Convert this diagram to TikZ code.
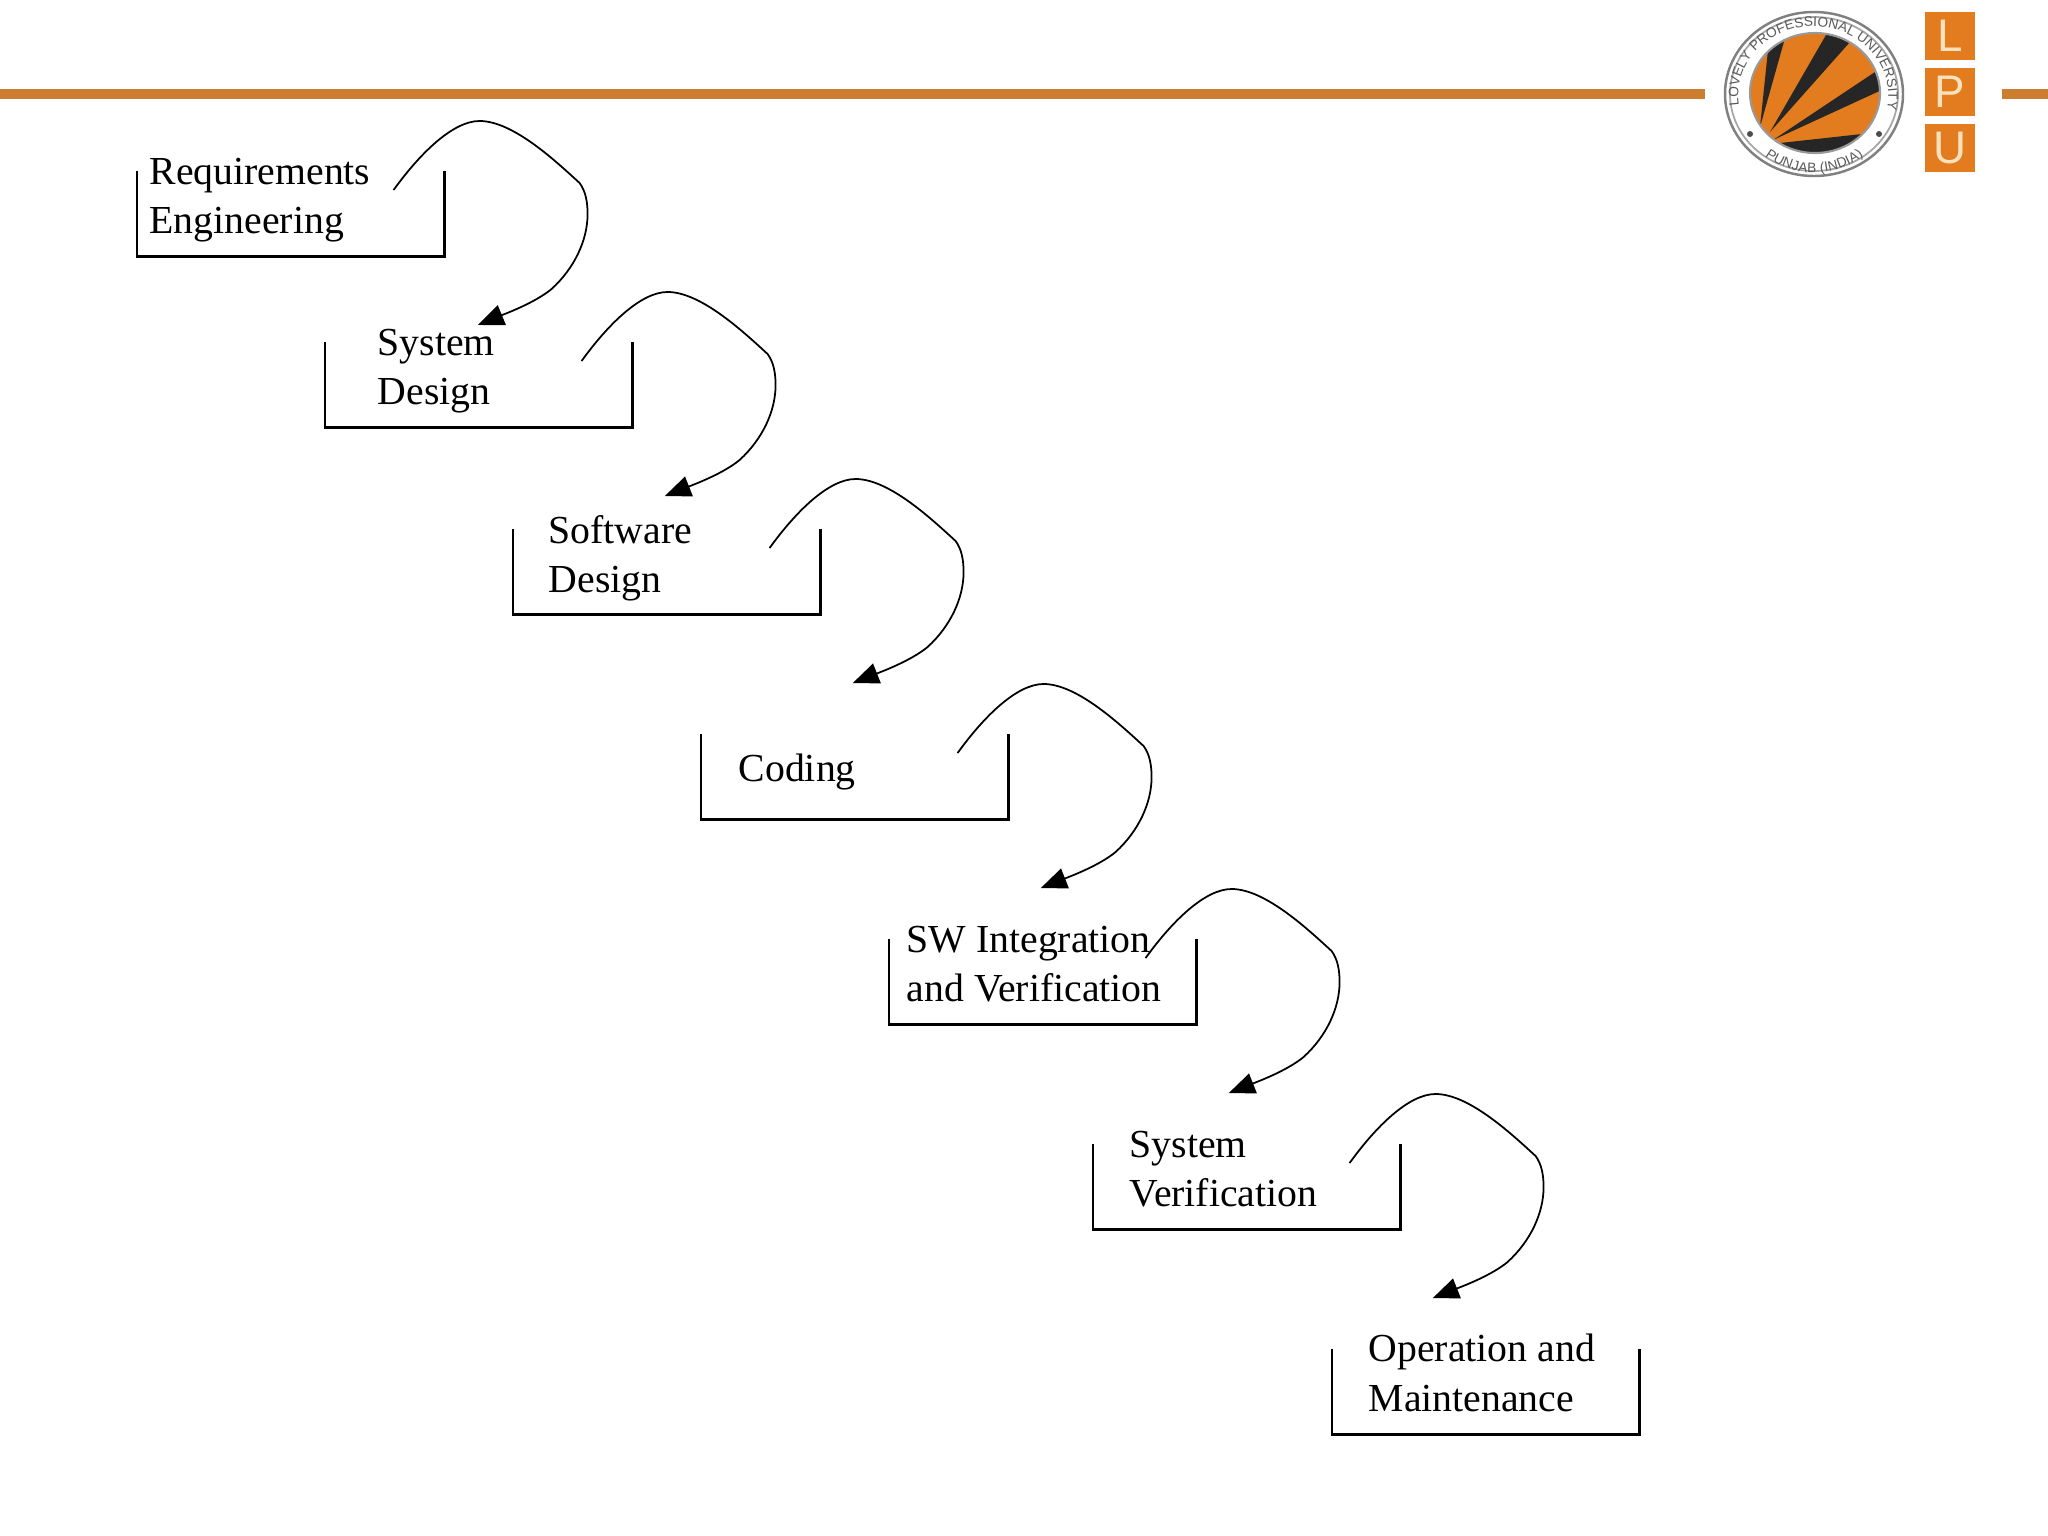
\documentclass[tikz,border=0pt]{standalone}
\usepackage{fontspec}
\setmainfont{Liberation Serif}
\newfontfamily\logofont{Liberation Sans}
\usetikzlibrary{arrows.meta,decorations.text}
\definecolor{rulecol}{RGB}{205,125,48}
\definecolor{lpuorange}{RGB}{226,124,30}
\definecolor{lpucream}{RGB}{250,225,190}
\tikzset{
  stagebox/.style={minimum width=3.06cm, minimum height=0.84cm, inner sep=0pt, anchor=north west,
    append after command={(\tikzlastnode.north west) edge[stageline, to path={-- (\tikzlastnode.south west) -- (\tikzlastnode.south east) -- (\tikzlastnode.north east)}] (\tikzlastnode.north east)}},
  stageline/.style={line width=0.7pt, black},
  stagetext/.style={anchor=west, align=left, inner sep=0pt, font=\fontsize{11.3}{14}\selectfont},
  hop/.style={line width=0.5pt, -{Triangle[length=2.6mm, width=2.1mm]},
    to path={{[shift={(\tikztostart)}]
      .. controls (26,-36) and (59,-69) .. (86,-69)
      .. controls (119,-69) and (161,-30) .. (186,-7)
      .. controls (192,1) and (194,12) .. (194,24)
      .. controls (194,50) and (181,78) .. (158,99)
      .. controls (141,113) and (111,124) .. (\tikztotarget)}}},
  lpubox/.style={fill=lpuorange, text=lpucream, minimum width=0.5cm, minimum height=0.47cm, inner sep=0pt, font=\logofont\fontsize{13}{13}\selectfont},
  ringtext/.style={decorate, decoration={text along path, text align={fit to path},
      text={|\logofont\fontsize{3.9}{4}\selectfont\color{black!65}|#1}}},
}
\begin{document}
\begin{tikzpicture}[x=0.01cm, y=-0.01cm]
  \useasboundingbox (0,0) rectangle (2048,1536);
  % header rule
  \coordinate (ruleA) at (0,94);    \coordinate (ruleB) at (1705,94);
  \coordinate (ruleC) at (2002,94); \coordinate (ruleD) at (2048,94);
  \draw[rulecol, line width=2.8pt] (ruleA) -- (ruleB);
  \draw[rulecol, line width=2.8pt] (ruleC) -- (ruleD);
  % logo
  \draw[gray, line width=0.7pt] (1814,94) ellipse [x radius=89, y radius=82];
  \draw[gray!70, line width=0.5pt] (1814,94) ellipse [x radius=84, y radius=77];
  \fill[lpuorange] (1815,93) ellipse [x radius=65, y radius=60];
  \begin{scope}
    \clip (1815,93) ellipse [x radius=65, y radius=60];
    \fill[black!85] (1760,127) -- (1768,50) -- (1785,38) -- cycle;
    \fill[black!85] (1770,132) -- (1830,28) -- (1850,42) -- cycle;
    \fill[black!85] (1773,140) -- (1878,70) -- (1886,88) -- cycle;
    \fill[black!85] (1780,143) -- (1862,134) -- (1853,160) -- (1800,160) -- cycle;
  \end{scope}
  \draw[gray!80, line width=0.6pt] (1815,93) ellipse [x radius=65, y radius=60];
  \fill[black!70] (1750,134) circle [radius=3];
  \fill[black!70] (1879,134) circle [radius=3];
  \path[ringtext={LOVELY PROFESSIONAL UNIVERSITY}]
    (1814,94) ++(-75,11) arc [start angle=172, end angle=368, x radius=75, y radius=69];
  \path[ringtext={PUNJAB (INDIA)}]
    (1814,94) ++(-49,62) arc [start angle=128, end angle=52, x radius=80, y radius=78];
  \node[lpubox] (lpuL) at (1950,36) {L};
  \node[lpubox] (lpuP) at (1950,92) {P};
  \node[lpubox] (lpuU) at (1950,148) {U};
  % stages
  \node[stagebox] (req) at (137,171) {};
  \node[stagebox] (sys) at (325,342) {};
  \node[stagebox] (sw) at (513,529) {};
  \node[stagebox] (cod) at (701,734) {};
  \node[stagebox] (integ) at (889,939) {};
  \node[stagebox] (ver) at (1093,1144) {};
  \node[stagebox] (ops) at (1332,1349) {};
  \node[stagetext] (reqT) at (149,200) {Requirements\\Engineering};
  \node[stagetext] (sysT) at (377,371) {System\\Design};
  \node[stagetext] (swT) at (548,558) {Software\\Design};
  \node[stagetext] (codT) at (738,772) {Coding};
  \node[stagetext] (integT) at (906,964) {SW Integration\\and Verification};
  \node[stagetext] (verT) at (1129,1169) {System\\Verification};
  \node[stagetext] (opsT) at (1368,1373) {Operation and\\Maintenance};
  % hops
  \coordinate (reqOut) at ([shift={(-51,19)}]req.north east);
  \coordinate (sysOut) at ([shift={(-51,19)}]sys.north east);
  \coordinate (swOut) at ([shift={(-51,19)}]sw.north east);
  \coordinate (codOut) at ([shift={(-51,19)}]cod.north east);
  \coordinate (integOut) at ([shift={(-51,19)}]integ.north east);
  \coordinate (verOut) at ([shift={(-51,19)}]ver.north east);
  \coordinate (sysIn) at ([shift={(-1,-17)}]sys.north);
  \coordinate (swIn) at ([shift={(-2,-33)}]sw.north);
  \coordinate (codIn) at ([shift={(-2,-51)}]cod.north);
  \coordinate (integIn) at ([shift={(-2,-51)}]integ.north);
  \coordinate (verIn) at ([shift={(-18,-51)}]ver.north);
  \coordinate (opsIn) at ([shift={(-53,-51)}]ops.north);
  \draw[hop] (reqOut) to (sysIn);
  \draw[hop] (sysOut) to (swIn);
  \draw[hop] (swOut) to (codIn);
  \draw[hop] (codOut) to (integIn);
  \draw[hop] (integOut) to (verIn);
  \draw[hop] (verOut) to (opsIn);
\end{tikzpicture}
\end{document}
